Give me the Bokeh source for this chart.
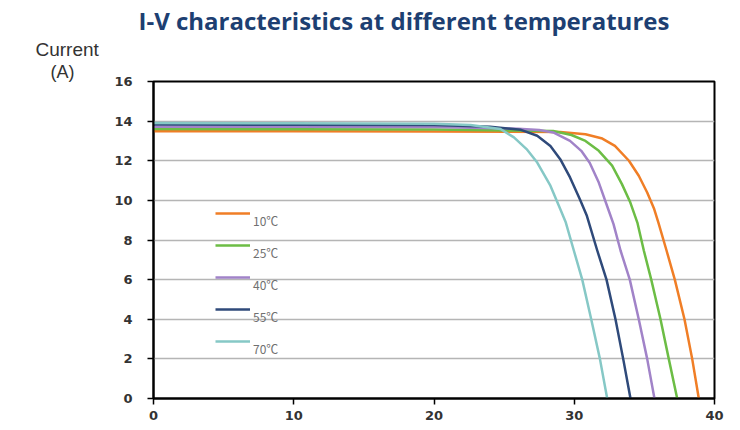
from bokeh.plotting import figure
from bokeh.models import Legend, LegendItem, Title, FixedTicker, Range1d
from bokeh.embed import file_html
from bokeh.resources import INLINE

# Voltage (V) / current (A) points
v_10 = [0, 10, 20, 29, 30.8, 32.0, 32.9, 33.9, 34.6, 35.2, 35.7, 36.0, 36.58, 37.17, 37.86, 38.41, 38.88]
i_10 = [13.49, 13.49, 13.48, 13.45, 13.34, 13.12, 12.75, 12.0, 11.24, 10.4, 9.56, 8.88, 7.47, 6.0, 4.0, 2.0, 0.0]

v_25 = [0, 10, 20, 28.5, 29.8, 30.8, 31.75, 32.7, 33.4, 34.0, 34.5, 34.96, 35.49, 36.15, 36.74, 37.34]
i_25 = [13.6, 13.59, 13.58, 13.5, 13.3, 13.0, 12.5, 11.75, 10.82, 9.89, 8.88, 7.47, 6.0, 4.0, 2.0, 0.0]

v_40 = [0, 10, 20, 26, 27.5, 28.5, 29.7, 30.5, 31.1, 31.75, 32.5, 32.8, 33.3, 33.96, 34.6, 35.2, 35.72]
i_40 = [13.72, 13.71, 13.7, 13.62, 13.55, 13.43, 13.0, 12.5, 11.9, 10.9, 9.4, 8.8, 7.47, 6.0, 4.0, 2.0, 0.0]

v_55 = [0, 10, 20, 24, 26.2, 27.36, 28.3, 29.0, 29.7, 30.4, 30.9, 31.64, 32.3, 32.94, 33.49, 34.01]
i_55 = [13.83, 13.82, 13.8, 13.72, 13.56, 13.26, 12.75, 12.08, 11.16, 10.06, 9.22, 7.47, 6.0, 4.0, 2.0, 0.0]

v_70 = [0, 10, 20, 22.6, 24.74, 25.7, 26.6, 27.36, 28.3, 29.0, 29.4, 29.97, 30.57, 31.21, 31.83, 32.35]
i_70 = [13.9, 13.89, 13.87, 13.8, 13.6, 13.18, 12.59, 11.91, 10.74, 9.56, 8.88, 7.47, 6.0, 4.0, 2.0, 0.0]

labels = ["10\u2103", "25\u2103", "40\u2103", "55\u2103", "70\u2103"]
colors = ["#f07e26", "#6cbd45", "#a183c8", "#2f4a7a", "#86c8c6"]
x_ticks = [0, 10, 20, 30, 40]
y_ticks = [0, 2, 4, 6, 8, 10, 12, 14, 16]

p = figure(width=740, height=430, output_backend="svg", toolbar_location=None,
           x_range=Range1d(0, 40), y_range=Range1d(0, 16),
           min_border_left=153, min_border_right=26, min_border_top=81, min_border_bottom=32)
p.outline_line_color = "black"
p.outline_line_width = 2
p.background_fill_color = "white"

p.xgrid.visible = False
p.ygrid.grid_line_color = "#b5b5b5"
p.ygrid.grid_line_width = 1.5
p.ygrid.ticker = FixedTicker(ticks=y_ticks)

for ax, ticks in ((p.xaxis[0], x_ticks), (p.yaxis[0], y_ticks)):
    ax.ticker = FixedTicker(ticks=ticks)
    ax.axis_line_color = "black"
    ax.axis_line_width = 2
    ax.major_tick_line_color = "black"
    ax.major_tick_line_width = 1.5
    ax.major_tick_out = 6
    ax.major_tick_in = 0
    ax.minor_tick_line_color = None
    ax.major_label_text_font = "DejaVu Sans"
    ax.major_label_text_font_style = "bold"
    ax.major_label_text_font_size = "13px"
    ax.major_label_text_color = "#333333"
p.xaxis.major_label_standoff = 6
p.yaxis.major_label_standoff = 15

series = [(v_10, i_10), (v_25, i_25), (v_40, i_40), (v_55, i_55), (v_70, i_70)]
renderers = []
for (v, i), c in zip(series, colors):
    r = p.line(v, i, line_color=c, line_width=2.5, line_join="round")
    renderers.append(r)

# legend lines (real renderers) and legend texts (set a little lower, as in the reference)
common = dict(background_fill_alpha=0, border_line_alpha=0, padding=0, margin=0, spacing=0,
              glyph_width=35, glyph_height=32, label_height=32, label_standoff=3,
              label_text_font="Noto Sans CJK SC", label_text_font_size="12px",
              label_text_color="#707070")
leg_lines = Legend(items=[LegendItem(label=" ", renderers=[r]) for r in renderers],
                   location=(62, 41), **common)
dummies = [p.line([], [], line_alpha=0) for _ in labels]
leg_text = Legend(items=[LegendItem(label=l, renderers=[d]) for l, d in zip(labels, dummies)],
                  location=(62, 34), **common)
p.add_layout(leg_lines)
p.add_layout(leg_text)

# texts above the frame: closest first
p.add_layout(Title(text="(A)", align="left", offset=-103, standoff=0,
                   text_font="Liberation Sans", text_font_style="normal",
                   text_font_size="18px", text_color="#333333"), "above")
p.add_layout(Title(text="Current", align="left", offset=-118, standoff=0,
                   text_font="Liberation Sans", text_font_style="normal",
                   text_font_size="19px", text_color="#333333"), "above")
p.add_layout(Title(text="I-V  characteristics at different temperatures", align="left",
                   offset=-15, standoff=0,
                   text_font="Open Sans", text_font_style="bold", text_font_size="24px",
                   text_color="#1d3f72"), "above")

open("out.html", "w").write(file_html(p, INLINE))
